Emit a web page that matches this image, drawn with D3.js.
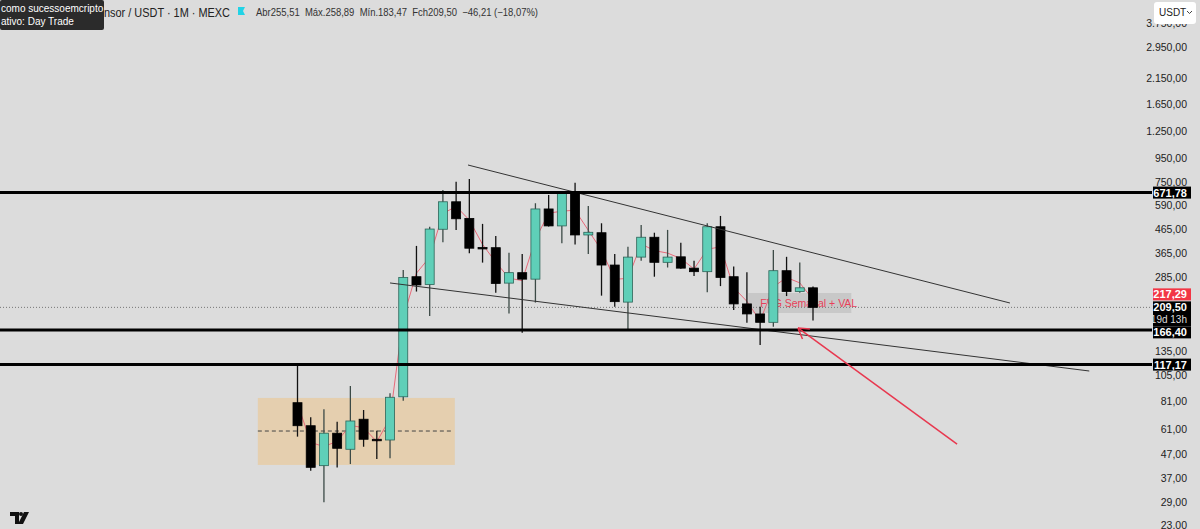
<!DOCTYPE html>
<html><head><meta charset="utf-8">
<script src="https://cdn.jsdelivr.net/npm/d3@7"></script>
<style>html,body{margin:0;padding:0;background:#dcdcdc;overflow:hidden}svg{display:block;font-family:"Liberation Sans",Arial,sans-serif}</style>
</head><body><svg id="c" width="1200" height="529"></svg>
<script>
// ---- data (monthly candles) ----
const months = ["2022-01","2022-02","2022-03","2022-04","2022-05","2022-06","2022-07","2022-08","2022-09","2022-10",
  "2022-11","2022-12","2023-01","2023-02","2023-03","2023-04","2023-05","2023-06","2023-07","2023-08",
  "2023-09","2023-10","2023-11","2023-12","2024-01","2024-02","2024-03","2024-04","2024-05","2024-06",
  "2024-07","2024-08","2024-09","2024-10","2024-11","2024-12","2025-01","2025-02","2025-03","2025-04"];
const opens  = [79.6,63.0,42.0,58.4,49.6,67.3,54.9,54.5,84.5,286, 264,463,612,517,385,384,268,298,279,569, 479,670,437,447,322,221,349,427,331,350, 312,301,475,286,217,196,180,304,246,255.51];
const highs  = [116.7,68.6,74.4,65.6,94.3,73.9,59.9,87.6,306,391, 475,690,750,771,489,432,365,360,603,656, 678,743,587,492,360,388,484,447,460,404, 336,492,530,317,299,211,375,350,330,258.89];
const lows   = [56.4,39.9,29.0,41.2,42.7,50.9,44.9,45.3,81.2,246, 192,406,460,363,330,243,197,162,220,476, 402,397,360,236,211,166,336,286,314,310, 288,244,260,204,179,143,172,235,243,183.47];
const closes = [63.0,41.3,58.4,50.1,66.1,54.9,54.6,84.1,284,263, 464,612,515,382,383,267,298,279,569,479, 667,437,449,322,222,349,427,331,349,312, 301,475,284,217,196,180,304,246,255.51,209.50];
const levels = [671.78, 166.40, 117.17];
const tickValues = [23,29,37,47,61,81,105,135,285,365,465,590,750,950,1250,1650,2150,2950,3750];
const lastClose = 209.50, redLevel = 217.29;
const upperTrend = [[12.9, 889], [53.9, 219]];
const lowerTrend = [[7.0, 268.4], [59.9, 109.8]];
const rangeBox = {i0:-3.0, i1:11.9, top:83.5, bottom:42.3, mid:59.7};
const fvgBox = {i0:34.1, i1:41.9, top:242.4, bottom:197.9, label:"FVG Semanal + VAL"};
const arrow = {from:[49.9, 52.3], to:[37.86, 170]};
const header = {title:"nsor / USDT · 1M · MEXC", legend:"Abr255,51  Máx.258,89  Mín.183,47  Fch209,50  −46,21 (−18,07%)",
  tip1:"como sucessoemcripto", tip2:"ativo: Day Trade", currency:"USDT", countdown:"19d 13h"};

// ---- scales ----
const svg = d3.select("#c");
const W = 1200, H = 529, plotRight = 1152;
const x = d3.scaleLinear().domain([0, 39]).range([297.5, 813]);
const y = d3.scaleLog().domain([22.08, 4747]).range([H, 0]);
const loc = d3.formatLocale({decimal:",", thousands:".", grouping:[3], currency:["",""]});
const fmt = loc.format(",.2f");
const candles = months.map((m,i)=>({m,i,o:opens[i],h:highs[i],l:lows[i],c:closes[i]}));

svg.append("rect").attr("width",W).attr("height",H).attr("fill","#dcdcdc");

// range box
svg.append("rect").attr("x",x(rangeBox.i0)).attr("y",y(rangeBox.top))
  .attr("width",x(rangeBox.i1)-x(rangeBox.i0)).attr("height",y(rangeBox.bottom)-y(rangeBox.top))
  .attr("fill","#e6cdaa").attr("opacity",0.9);
svg.append("line").attr("x1",x(rangeBox.i0)).attr("x2",x(rangeBox.i1)-3)
  .attr("y1",y(rangeBox.mid)).attr("y2",y(rangeBox.mid))
  .attr("stroke","#444").attr("stroke-width",1).attr("stroke-dasharray","4,3");

// FVG box
svg.append("rect").attr("x",x(fvgBox.i0)).attr("y",y(fvgBox.top))
  .attr("width",x(fvgBox.i1)-x(fvgBox.i0)).attr("height",y(fvgBox.bottom)-y(fvgBox.top))
  .attr("fill","#c4c4c4").attr("opacity",0.85);
svg.append("text").attr("x",x(fvgBox.i0)+12).attr("y",(y(fvgBox.top)+y(fvgBox.bottom))/2+4)
  .attr("font-size",10.5).attr("fill","#e8405a").text(fvgBox.label);

// dotted last price line
svg.append("line").attr("x1",0).attr("x2",plotRight).attr("y1",y(lastClose)).attr("y2",y(lastClose))
  .attr("stroke","#777").attr("stroke-width",1).attr("stroke-dasharray","1,2");

// red indicator line (ohlc4)
const line = d3.line().x(d=>x(d.i)).y(d=>y((d.o+d.h+d.l+d.c)/4));
svg.append("path").datum(candles).attr("d",line).attr("fill","none").attr("stroke","#e86a7a").attr("stroke-width",1);

// candles
const teal = "#5fcfb8";
const g = svg.append("g");
g.selectAll("line.w").data(candles).join("line").attr("class","w")
  .attr("x1",d=>x(d.i)).attr("x2",d=>x(d.i)).attr("y1",d=>y(d.h)).attr("y2",d=>y(d.l))
  .attr("stroke",d=>d.c>=d.o?"#3c4a46":"#111").attr("stroke-width",1.3);
g.selectAll("rect.b").data(candles).join("rect").attr("class","b")
  .attr("x",d=>x(d.i)-4.5).attr("width",9)
  .attr("y",d=>y(Math.max(d.o,d.c)))
  .attr("height",d=>Math.max(1.5, y(Math.min(d.o,d.c))-y(Math.max(d.o,d.c))))
  .attr("fill",d=>d.c>=d.o?teal:"#000")
  .attr("stroke",d=>d.c>=d.o?"#2d6458":"#000").attr("stroke-width",0.8);

// trendlines
[upperTrend, lowerTrend].forEach(t=>{
  svg.append("line").attr("x1",x(t[0][0])).attr("y1",y(t[0][1])).attr("x2",x(t[1][0])).attr("y2",y(t[1][1]))
    .attr("stroke","#333").attr("stroke-width",1);
});

// horizontal levels
svg.selectAll("line.lv").data(levels).join("line").attr("class","lv")
  .attr("x1",0).attr("x2",plotRight).attr("y1",d=>y(d)).attr("y2",d=>y(d))
  .attr("stroke","#000").attr("stroke-width",3);

// arrow
const ax1 = x(arrow.from[0]), ay1 = y(arrow.from[1]), ax2 = x(arrow.to[0]), ay2 = y(arrow.to[1]);
svg.append("line").attr("x1",ax1).attr("y1",ay1).attr("x2",ax2).attr("y2",ay2).attr("stroke","#e8384f").attr("stroke-width",1.5);
const ang = Math.atan2(ay1-ay2, ax1-ax2);
[0.55,-0.55].forEach(da=>{
  svg.append("line").attr("x1",ax2).attr("y1",ay2)
    .attr("x2",ax2+12*Math.cos(ang+da)).attr("y2",ay2+12*Math.sin(ang+da))
    .attr("stroke","#e8384f").attr("stroke-width",1.5);
});

// right axis
const axis = d3.axisRight(y).tickValues(tickValues).tickSize(0).tickFormat(d=>fmt(d));
const ag = svg.append("g").attr("transform",`translate(${plotRight},0)`).call(axis);
ag.select(".domain").remove();
ag.selectAll("text").attr("x",35).attr("text-anchor","end").attr("font-size",10.5).attr("fill","#222")
  .attr("font-family","Liberation Sans, Arial, sans-serif");

// price labels (stacked like the platform does, shifted to avoid overlap)
function priceLabel(v, cy, bg, extra){
  const h = extra?25:12;
  svg.append("rect").attr("x",1153).attr("y",cy-6).attr("width",38).attr("height",h).attr("fill",bg);
  svg.append("text").attr("x",1187).attr("y",cy+4).attr("text-anchor","end").attr("font-size",11)
    .attr("font-weight","bold").attr("fill","#fff").text(fmt(v));
  if(extra) svg.append("text").attr("x",1187).attr("y",cy+16).attr("text-anchor","end").attr("font-size",10)
    .attr("fill","#ddd").text(extra);
}
const yLast = y(lastClose);
priceLabel(levels[0], y(levels[0]), "#000");
priceLabel(redLevel, yLast-13, "#f23645");
priceLabel(lastClose, yLast, "#000", header.countdown);
priceLabel(levels[1], yLast+25, "#000");
priceLabel(levels[2], y(levels[2]), "#000");

// currency button
svg.append("rect").attr("x",1154).attr("y",2).attr("width",42).attr("height",22).attr("rx",3).attr("fill","#fff");
svg.append("text").attr("x",1159).attr("y",16).attr("font-size",10).attr("fill","#222").text(header.currency);
svg.append("path").attr("d","M1187,11 l2.5,2.5 l2.5,-2.5").attr("fill","none").attr("stroke","#444").attr("stroke-width",1);

// header
svg.append("text").attr("x",104).attr("y",17).attr("font-size",13).attr("fill","#222")
  .attr("textLength",126).attr("lengthAdjust","spacingAndGlyphs").text(header.title);
svg.append("path").attr("d","M238,7 h7 l-2,4 l2,4 h-7 z").attr("fill","#22d3e6");
svg.append("text").attr("x",256).attr("y",16).attr("font-size",10.5).attr("fill","#333")
  .attr("textLength",282).attr("lengthAdjust","spacingAndGlyphs").attr("xml:space","preserve").text(header.legend);
svg.append("rect").attr("x",0).attr("y",0).attr("width",104).attr("height",30).attr("rx",2).attr("fill","#2b2b2b");
svg.append("text").attr("x",1).attr("y",12).attr("font-size",10).attr("fill","#fff").text(header.tip1);
svg.append("text").attr("x",1).attr("y",25).attr("font-size",10).attr("fill","#fff").text(header.tip2);

// logo
svg.append("path").attr("d","M10,512 h9 v12 h-4 v-8 h-5 z M24,512 h5 l-6,12 h-5 z").attr("fill","#111");
svg.append("circle").attr("cx",21).attr("cy",514).attr("r",2).attr("fill","#111");
</script></body></html>
